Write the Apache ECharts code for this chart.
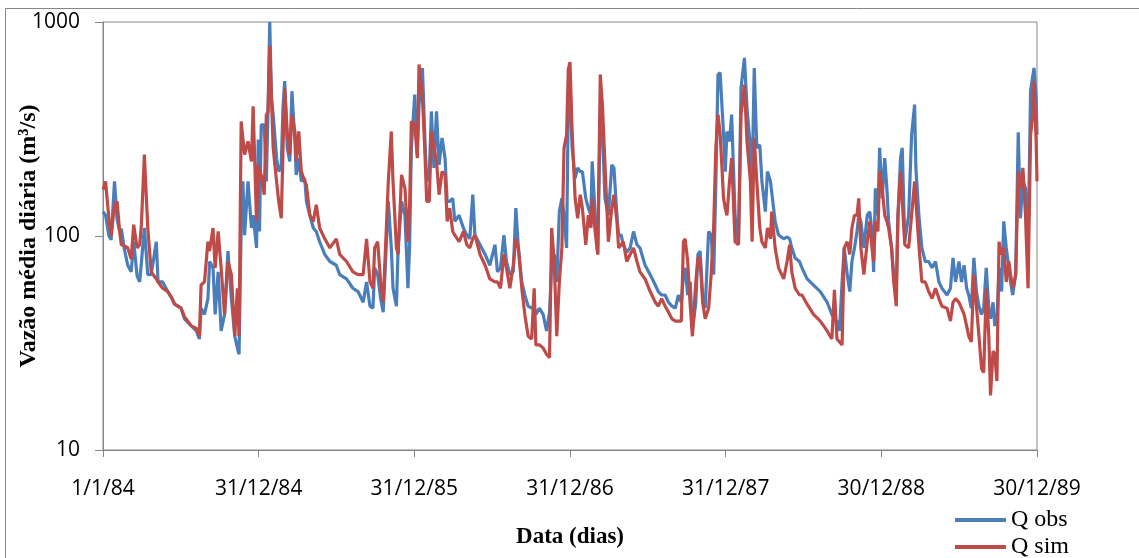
<!DOCTYPE html>
<html>
<head>
<meta charset="utf-8">
<script src="https://cdn.jsdelivr.net/npm/echarts@6/dist/echarts.min.js"></script>
<style>
  html, body { margin: 0; padding: 0; background: #fff; }
  #chart { width: 1139px; height: 558px; }
</style>
</head>
<body>
<div id="chart"></div>
<script>
// dias desde 1/1/84
const days = [
  0, 6, 14, 19, 27, 33, 39, 43, 50, 58,
  66, 72, 80, 86, 90, 97, 105, 113, 125, 129,
  140, 152, 162, 168, 183, 191, 207, 219, 226, 230,
  238, 246, 250, 258, 263, 270, 277, 285, 293, 301,
  309, 315, 319, 324, 328, 332, 340, 348, 352, 360,
  364, 367, 371, 378, 383, 387, 391, 395, 399, 407,
  412, 418, 422, 426, 432, 438, 443, 450, 453, 459,
  465, 473, 477, 485, 493, 500, 508, 520, 532, 547,
  555, 571, 586, 598, 610, 618, 626, 633, 637, 644,
  651, 657, 669, 676, 680, 688, 692, 700, 708, 715,
  719, 723, 731, 737, 741, 749, 755, 759, 765, 770,
  776, 782, 788, 795, 802, 807, 813, 820, 825, 835,
  845, 853, 860, 867, 872, 884, 896, 907, 919, 925,
  932, 940, 946, 954, 962, 968, 974, 982, 989, 997,
  1005, 1011, 1015, 1023, 1032, 1040, 1047, 1052, 1058, 1064,
  1070, 1076, 1081, 1087, 1091, 1095, 1100, 1107, 1113, 1119,
  1124, 1132, 1138, 1144, 1147, 1154, 1160, 1166, 1171, 1177,
  1185, 1193, 1198, 1205, 1209, 1215, 1220, 1228, 1236, 1244,
  1252, 1259, 1271, 1283, 1295, 1302, 1310, 1318, 1326, 1334,
  1342, 1349, 1356, 1361, 1365, 1371, 1377, 1382, 1390, 1395,
  1400, 1406, 1412, 1420, 1426, 1432, 1437, 1442, 1447, 1451,
  1455, 1459, 1463, 1469, 1474, 1478, 1482, 1490, 1496, 1504,
  1510, 1518, 1522, 1527, 1533, 1540, 1545, 1553, 1558, 1565,
  1568, 1576, 1584, 1596, 1604, 1610, 1615, 1623, 1633, 1639,
  1651, 1666, 1682, 1698, 1709, 1715, 1721, 1727, 1733, 1738,
  1745, 1751, 1756, 1762, 1768, 1772, 1777, 1784, 1792, 1798,
  1803, 1807, 1811, 1817, 1821, 1827, 1833, 1838, 1842, 1849,
  1854, 1860, 1864, 1870, 1874, 1880, 1889, 1896, 1903, 1906,
  1913, 1920, 1928, 1936, 1944, 1952, 1960, 1967, 1979, 1987,
  1993, 1999, 2007, 2013, 2019, 2025, 2030, 2036, 2042, 2048,
  2054, 2060, 2065, 2071, 2077, 2081, 2087, 2091, 2096, 2101,
  2107, 2112, 2118, 2124, 2128, 2133, 2140, 2146, 2151, 2157,
  2163, 2169, 2175, 2179, 2183, 2188, 2190
];

const qObs = [
  130, 125, 100, 96, 180, 120, 105, 108, 87, 73,
  68, 94, 65, 61, 75, 109, 66, 66, 94, 61,
  61, 55, 51, 48, 46, 41, 38, 36, 33, 46,
  43, 51, 76, 71, 43, 68, 36, 43, 85, 51,
  34, 30, 28, 110, 180, 101, 180, 109, 125, 88,
  282, 105, 331, 331, 180, 397, 1000, 442, 369, 231,
  200, 215, 397, 529, 258, 223, 475, 277, 193, 231,
  180, 186, 145, 125, 109, 105, 94, 82, 76, 73,
  66, 63, 57, 55, 49, 61, 47, 46, 71, 66,
  51, 44, 145, 88, 57, 47, 88, 145, 125, 57,
  91, 258, 458, 240, 411, 610, 277, 180, 193, 382,
  208, 382, 215, 287, 231, 145, 145, 150, 117, 125,
  109, 101, 97, 156, 101, 91, 82, 73, 91, 68,
  71, 101, 76, 66, 68, 135, 88, 61, 53, 47,
  46, 47, 43, 46, 43, 36, 44, 73, 82, 61,
  130, 150, 125, 88, 420, 500, 258, 186, 208, 200,
  200, 150, 135, 125, 223, 125, 82, 369, 308, 150,
  125, 215, 208, 125, 101, 101, 91, 84, 88, 105,
  91, 88, 73, 66, 59, 55, 53, 53, 49, 47,
  46, 53, 49, 66, 71, 53, 61, 36, 49, 82,
  85, 53, 46, 105, 101, 66, 180, 568, 580, 589,
  300, 200, 308, 277, 369, 215, 125, 91, 492, 680,
  397, 258, 180, 610, 258, 267, 180, 130, 200, 180,
  180, 117, 101, 97, 99, 97, 88, 79, 76, 71,
  63, 59, 55, 49, 43, 41, 40, 36, 61, 88,
  66, 55, 76, 88, 105, 125, 117, 88, 125, 130,
  105, 68, 167, 125, 258, 150, 231, 167, 117, 88,
  66, 57, 125, 231, 258, 94, 125, 297, 411, 208,
  125, 88, 76, 76, 71, 76, 61, 57, 53, 57,
  79, 61, 76, 61, 73, 57, 53, 46, 79, 55,
  47, 43, 46, 71, 46, 41, 49, 38, 40, 71,
  55, 117, 88, 71, 61, 53, 66, 305, 121, 180,
  167, 88, 480, 480, 610, 442, 297
];

const qSim = [
  165, 180, 120, 100, 140, 145, 105, 91, 90, 88,
  78, 113, 88, 91, 113, 240, 109, 68, 63, 61,
  57, 55, 51, 48, 46, 42, 38, 37, 34, 59,
  61, 94, 85, 109, 71, 105, 71, 43, 76, 66,
  34, 57, 34, 343, 343, 240, 277, 223, 404, 117,
  215, 200, 193, 156, 369, 380, 771, 442, 258, 180,
  145, 121, 250, 492, 308, 240, 369, 308, 223, 308,
  200, 180, 173, 125, 117, 140, 109, 97, 88, 97,
  82, 76, 68, 66, 66, 97, 61, 57, 88, 94,
  61, 49, 180, 308, 180, 88, 82, 193, 167, 94,
  140, 343, 331, 231, 633, 442, 240, 145, 145, 308,
  258, 223, 156, 200, 193, 117, 135, 105, 101, 94,
  105, 91, 88, 97, 101, 82, 73, 63, 61, 61,
  57, 82, 71, 57, 73, 97, 88, 57, 43, 34,
  33, 57, 31, 31, 30, 28, 27, 109, 76, 34,
  61, 88, 258, 297, 600, 650, 308, 150, 121, 156,
  135, 91, 125, 109, 150, 105, 82, 568, 411, 215,
  94, 135, 156, 117, 88, 91, 94, 76, 82, 88,
  76, 68, 63, 55, 49, 47, 51, 47, 44, 41,
  40, 40, 40, 94, 97, 76, 47, 34, 61, 79,
  79, 49, 41, 46, 66, 113, 258, 369, 300, 215,
  150, 135, 125, 180, 231, 150, 94, 91, 369, 510,
  277, 180, 94, 287, 180, 109, 94, 88, 109, 97,
  130, 88, 71, 63, 76, 91, 68, 57, 53, 53,
  48, 43, 40, 36, 33, 56, 33, 32, 31, 88,
  94, 82, 109, 125, 125, 150, 88, 66, 94, 117,
  88, 76, 117, 105, 200, 167, 125, 117, 109, 88,
  61, 47, 125, 200, 200, 91, 88, 125, 180, 145,
  91, 61, 61, 55, 51, 57, 51, 47, 46, 40,
  49, 51, 49, 46, 43, 38, 34, 32, 66, 47,
  34, 24, 23, 57, 34, 18, 29, 28, 21, 94,
  82, 88, 61, 76, 66, 57, 66, 200, 167, 208,
  125, 57, 297, 350, 529, 277, 180
];

const tickLabels = ["1/1/84", "31/12/84", "31/12/85", "31/12/86", "31/12/87", "30/12/88", "30/12/89"];
const seriesNames = ["Q obs", "Q sim"];

const chart = echarts.init(document.getElementById("chart"));

const axisGrey = "#868686";
const labelFont = "'Open Sans', sans-serif";
const serifFont = "'Liberation Serif', 'Times New Roman', serif";

chart.setOption({
  animation: false,
  color: ["#4a7ebb", "#be4b48"],
  graphic: [{
    type: "rect",
    shape: { x: 5.5, y: 8.5, width: 1300, height: 700 },
    style: { fill: "none", stroke: axisGrey, lineWidth: 1 },
    silent: true
  }],
  grid: {
    left: 103,
    top: 22,
    right: 102,
    bottom: 108,
    containLabel: false,
    outerBoundsMode: "none",
    show: true,
    borderColor: axisGrey,
    borderWidth: 1
  },
  legend: {
    orient: "vertical",
    left: 955,
    top: 508,
    height: 80,
    padding: 0,
    icon: "rect",
    itemWidth: 51,
    itemHeight: 4,
    itemGap: 3,
    textStyle: { fontFamily: serifFont, fontSize: 24, color: "#000", lineHeight: 24 },
    data: seriesNames
  },
  xAxis: {
    type: "value",
    min: 0,
    max: 2190,
    interval: 365,
    name: "Data (dias)",
    nameLocation: "middle",
    nameGap: 76,
    nameMoveOverlap: false,
    nameTextStyle: { fontFamily: serifFont, fontSize: 23, fontWeight: "bold", color: "#000" },
    axisLine: { lineStyle: { color: axisGrey } },
    axisTick: { show: true, length: 7, lineStyle: { color: axisGrey } },
    axisLabel: {
      margin: 29,
      fontFamily: labelFont,
      fontSize: 21,
      color: "#000",
      showMinLabel: true,
      showMaxLabel: true,
      formatter: (v) => tickLabels[Math.round(v / 365)]
    },
    splitLine: { show: false }
  },
  yAxis: {
    type: "log",
    logBase: 10,
    min: 10,
    max: 1000,
    name: "Vazão média diária (m³/s)",
    nameLocation: "middle",
    nameGap: 62,
    nameMoveOverlap: false,
    nameTextStyle: { fontFamily: serifFont, fontSize: 24, fontWeight: "bold", color: "#000" },
    axisLine: { show: true, lineStyle: { color: axisGrey } },
    axisTick: { show: true, length: 8, lineStyle: { color: axisGrey } },
    axisLabel: {
      margin: 23,
      fontFamily: labelFont,
      fontSize: 21,
      color: "#000",
      formatter: (v) => String(Math.round(v))
    },
    splitLine: { show: false }
  },
  series: [
    {
      name: seriesNames[0],
      type: "line",
      showSymbol: false,
      lineStyle: { width: 3.2 },
      data: days.map((d, i) => [d, qObs[i]])
    },
    {
      name: seriesNames[1],
      type: "line",
      showSymbol: false,
      lineStyle: { width: 3.2 },
      data: days.map((d, i) => [d, qSim[i]])
    }
  ]
});
</script>
</body>
</html>
